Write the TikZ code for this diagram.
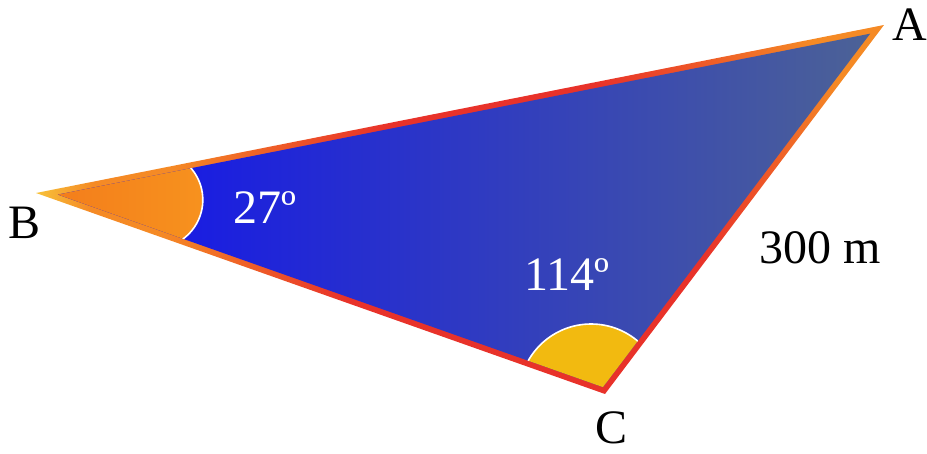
\documentclass[tikz,border=0pt]{standalone}
\usepackage{fontspec}
\setmainfont{Liberation Serif}
\usetikzlibrary{calc}
\definecolor{rimred}{RGB}{232,50,42}
\definecolor{rimorange}{RGB}{245,138,37}
\definecolor{rimyellow}{RGB}{247,193,58}
\definecolor{blueL}{RGB}{16,16,240}
\definecolor{blueR}{RGB}{76,98,150}
\definecolor{secorangeL}{RGB}{242,118,26}
\definecolor{secorangeR}{RGB}{247,146,30}
\definecolor{secyellow}{RGB}{242,186,16}
\pgfdeclareradialshading{rim}{\pgfpoint{0bp}{0bp}}{color(0bp)=(rimred); color(5bp)=(rimred); color(10bp)=(rimorange); color(12bp)=(rimorange); color(13.5bp)=(rimyellow); color(50bp)=(rimyellow)}
\tikzset{
  lbl/.style={font=\fontsize{48}{50}\selectfont, inner sep=0pt},
  anglbl/.style={lbl, text=white},
  arcline/.style={draw=white, line width=1.6pt}
}
\begin{document}
\begin{tikzpicture}[x=1pt,y=1pt]
\useasboundingbox (0,0) rectangle (927,-454);
\coordinate (A) at (884,-25);
\coordinate (B) at (36,-193);
\coordinate (C) at (605,-394);
\coordinate (I) at (555.9,-230.5);
\coordinate (Ai) at ($(I)!0.958!(A)$);
\coordinate (Bi) at ($(I)!0.958!(B)$);
\coordinate (Ci) at ($(I)!0.958!(C)$);
% rim
\begin{scope}
  \clip (A) -- (B) -- (C) -- cycle;
  \shade[shading=rim] (520,-250) circle (900pt);
\end{scope}
% blue interior
\shade[left color=blueL, right color=blueR] (Ai) -- (Bi) -- (Ci) -- cycle;
% sectors
\begin{scope}
  \clip (Ai) -- (Bi) -- (Ci) -- cycle;
  \shade[left color=secorangeL, right color=secorangeR]
    (188,-165) arc[start angle=46, end angle=-55.5, radius=48.5pt]
    -- (0,-300) -- (0,-100) -- cycle;
  \draw[arcline] (188,-165) arc[start angle=46, end angle=-55.5, radius=48.5pt];
  \fill[secyellow] (591.1,-396.2) circle (72.2pt);
  \draw[arcline] (591.1,-396.2) circle (72.2pt);
\end{scope}
% labels
\node[lbl] (lblA) at (910,-25) {A};
\node[lbl] (lblB) at (25,-223) {B};
\node[lbl] (lblC) at (612,-428) {C};
\node[anglbl] (ang27) at (265,-208) {27º};
\node[anglbl] (ang114) at (567,-275) {114º};
\node[lbl] (side) at (820,-248) {300 m};
\end{tikzpicture}
\end{document}
